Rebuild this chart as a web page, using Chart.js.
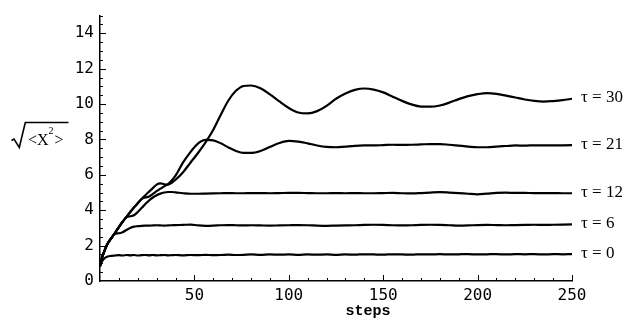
<!DOCTYPE html>
<html>
<head>
<meta charset="utf-8">
<script src="https://cdn.jsdelivr.net/npm/chart.js@4"></script>
<style>
  body { margin: 0; background: #fff; }
</style>
</head>
<body>
<canvas id="myChart" width="638" height="320"></canvas>
<script>
let steps = [0, 1, 2, 4, 6, 8, 10, 12, 14, 16, 18, 20, 22, 24, 26, 28, 30, 32, 34, 36, 38, 40,
  44, 48, 52, 56, 60, 64, 68, 72, 76, 80,
  85, 90, 95, 100, 105, 110, 115, 120, 125, 130, 135, 140, 145, 150, 155, 160, 165, 170, 175,
  180, 185, 190, 195, 200, 205, 210, 215, 220, 225, 230, 235, 240, 245, 250];

let tau30 = [0.85, 1.3, 1.6, 2.1, 2.42, 2.72, 3.05, 3.35, 3.62, 3.9, 4.15, 4.4, 4.63, 4.85, 5.05, 5.25, 5.45,
  5.52, 5.47, 5.45, 5.55, 5.72,
  6.15, 6.7, 7.25, 7.85, 8.55, 9.4, 10.2, 10.75, 11.02, 11.05,
  10.9, 10.55, 10.15, 9.78, 9.52, 9.47, 9.6, 9.9, 10.3, 10.6, 10.8, 10.88, 10.82, 10.66, 10.42,
  10.18, 9.98, 9.86, 9.85, 9.92, 10.08, 10.28, 10.45, 10.56, 10.62, 10.58, 10.48, 10.37, 10.26,
  10.18, 10.14, 10.17, 10.22, 10.3];

let tau21 = [0.85, 1.3, 1.6, 2.1, 2.42, 2.72, 3.05, 3.35, 3.62, 3.9, 4.15, 4.4, 4.63,
  4.72, 4.78, 4.92, 5.08, 5.22, 5.35, 5.48, 5.68, 5.95,
  6.7, 7.3, 7.78, 7.98, 7.95, 7.78, 7.55, 7.35, 7.24, 7.24,
  7.35, 7.58, 7.8, 7.92, 7.88, 7.78, 7.66, 7.58, 7.56, 7.6, 7.64, 7.66, 7.66, 7.68, 7.7,
  7.69, 7.7, 7.72, 7.74, 7.74, 7.7, 7.65, 7.6, 7.56, 7.56, 7.6, 7.63, 7.66, 7.65, 7.67,
  7.66, 7.66, 7.67, 7.68];

let tau12 = [0.85, 1.3, 1.6, 2.1, 2.42, 2.72, 3.05, 3.35, 3.6, 3.66, 3.72, 3.9, 4.12, 4.35, 4.55, 4.72,
  4.85, 4.94, 5.0, 5.03, 5.03, 5.01,
  4.96, 4.93, 4.93, 4.94, 4.95, 4.96, 4.97, 4.96, 4.96, 4.97,
  4.97, 4.96, 4.97, 4.98, 4.98, 4.97, 4.96, 4.96, 4.97, 4.96, 4.97, 4.96, 4.96, 4.97, 4.98,
  4.96, 4.95, 4.97, 5.0, 5.02, 5.0, 4.97, 4.93, 4.9, 4.94, 4.98, 4.99, 4.98, 4.98, 4.97,
  4.97, 4.97, 4.96, 4.96];

let tau6 = [0.85, 1.3, 1.6, 2.1, 2.42, 2.68, 2.7, 2.76, 2.88, 3.0, 3.07, 3.1, 3.12, 3.13, 3.13, 3.14,
  3.15, 3.14, 3.13, 3.14, 3.15, 3.16,
  3.17, 3.19, 3.14, 3.12, 3.13, 3.15, 3.16, 3.15, 3.14, 3.15,
  3.14, 3.13, 3.14, 3.15, 3.16, 3.15, 3.13, 3.12, 3.13, 3.14, 3.15, 3.17, 3.18, 3.17, 3.15,
  3.14, 3.15, 3.17, 3.18, 3.17, 3.15, 3.13, 3.14, 3.16, 3.17, 3.16, 3.15, 3.16, 3.17, 3.18,
  3.17, 3.18, 3.19, 3.2];

let tau0 = [0.8, 1.1, 1.25, 1.38, 1.42, 1.44, 1.46, 1.44, 1.47, 1.45, 1.47, 1.44, 1.46, 1.47, 1.45, 1.47,
  1.45, 1.46, 1.47, 1.45, 1.46, 1.47,
  1.45, 1.47, 1.46, 1.48, 1.46, 1.47, 1.49, 1.47, 1.48, 1.5,
  1.48, 1.5, 1.49, 1.5, 1.48, 1.5, 1.49, 1.5, 1.48, 1.5, 1.49, 1.51, 1.5, 1.49, 1.51,
  1.5, 1.49, 1.51, 1.5, 1.52, 1.5, 1.51, 1.52, 1.5, 1.51, 1.52, 1.5, 1.52, 1.51, 1.52,
  1.5, 1.52, 1.51, 1.52];

let seriesValues = [tau30, tau21, tau12, tau6, tau0];
let seriesLabels = ["\u03c4 = 30", "\u03c4 = 21", "\u03c4 = 12", "\u03c4 = 6", "\u03c4 = 0"];

let xMin = 0, xMax = 250, xMajor = 50, xMinor = 10;
let yMin = 0, yMax = 15, yMajor = 2, yMinor = 0.5;
let xTitle = "steps";

let tickFont = { family: "DejaVu Sans Mono", size: 16 };

// inward tick marks, like the original plot
const tickMarks = {
  id: "tickMarks",
  afterDraw(chart) {
    const { ctx, chartArea: a, scales: { x, y } } = chart;
    ctx.save();
    ctx.strokeStyle = "#000";
    ctx.lineWidth = 1;
    ctx.beginPath();
    for (let v = xMin + xMinor; v <= xMax; v += xMinor) {
      let px = Math.round(x.getPixelForValue(v)) + 0.5;
      let len = v % xMajor === 0 ? 6 : 3;
      ctx.moveTo(px, a.bottom);
      ctx.lineTo(px, a.bottom - len);
    }
    for (let v = yMin + yMinor; v <= yMax; v += yMinor) {
      let py = Math.round(y.getPixelForValue(v)) + 0.5;
      let len = v % yMajor === 0 ? 6 : 3;
      ctx.moveTo(a.left, py);
      ctx.lineTo(a.left + len, py);
    }
    ctx.stroke();
    ctx.restore();
  }
};

// tau labels at the line ends, x title, and the sqrt(<X^2>) y title
const annotations = {
  id: "annotations",
  afterDraw(chart) {
    const { ctx, chartArea: a, scales: { y } } = chart;
    ctx.save();
    ctx.fillStyle = "#000";
    ctx.font = '17px "Liberation Serif"';
    ctx.textBaseline = "middle";
    ctx.textAlign = "left";
    chart.data.datasets.forEach((ds, i) => {
      let last = ds.data[ds.data.length - 1].y;
      ctx.fillText(seriesLabels[i], a.right + 9, y.getPixelForValue(last) - 1);
    });

    ctx.font = 'bold 15px "Liberation Mono"';
    ctx.textAlign = "center";
    ctx.fillText(xTitle, 368, 311);

    // radical sign
    ctx.strokeStyle = "#000";
    ctx.lineWidth = 1.6;
    ctx.beginPath();
    ctx.moveTo(11.5, 140.5);
    ctx.lineTo(14, 139);
    ctx.lineTo(19.3, 147.5);
    ctx.lineTo(25.3, 122.5);
    ctx.lineTo(68.5, 122.5);
    ctx.stroke();

    ctx.textAlign = "left";
    ctx.textBaseline = "alphabetic";
    ctx.font = '16px "Liberation Serif"';
    let tx = 28;
    ctx.fillText("<X", tx, 145);
    tx += ctx.measureText("<X").width;
    ctx.font = '10px "Liberation Serif"';
    ctx.fillText("2", tx, 134);
    tx += ctx.measureText("2").width + 1;
    ctx.font = '16px "Liberation Serif"';
    ctx.fillText(">", tx, 145);
    ctx.restore();
  }
};

let ctx = document.getElementById("myChart");

let datasets = seriesValues.map((vals, i) => ({
  label: seriesLabels[i],
  data: steps.map((s, j) => ({ x: s, y: vals[j] })),
  borderColor: "#000",
  borderWidth: 2.2,
  pointRadius: 0,
  fill: false,
  cubicInterpolationMode: "monotone"
}));

let myChart = new Chart(ctx, {
  type: "line",
  data: { datasets: datasets },
  options: {
    responsive: false,
    animation: false,
    layout: { padding: { left: 0, right: 66, top: 11, bottom: 0 } },
    plugins: {
      legend: { display: false },
      tooltip: { enabled: false }
    },
    scales: {
      x: {
        type: "linear",
        min: xMin,
        max: xMax,
        afterFit(scale) { scale.height = 39; },
        grid: { display: false, drawTicks: false },
        border: { display: true, color: "#000", width: 1.5 },
        ticks: {
          stepSize: xMajor,
          padding: 5,
          color: "#000",
          font: tickFont,
          maxRotation: 0,
          callback: v => (v === 0 ? "" : v)
        }
      },
      y: {
        type: "linear",
        min: yMin,
        max: yMax,
        afterFit(scale) { scale.width = 100; },
        grid: { display: false, drawTicks: false },
        border: { display: true, color: "#000", width: 1.5 },
        ticks: {
          stepSize: yMajor,
          includeBounds: false,
          padding: 6,
          color: "#000",
          font: tickFont
        }
      }
    }
  },
  plugins: [tickMarks, annotations]
});
</script>
</body>
</html>
